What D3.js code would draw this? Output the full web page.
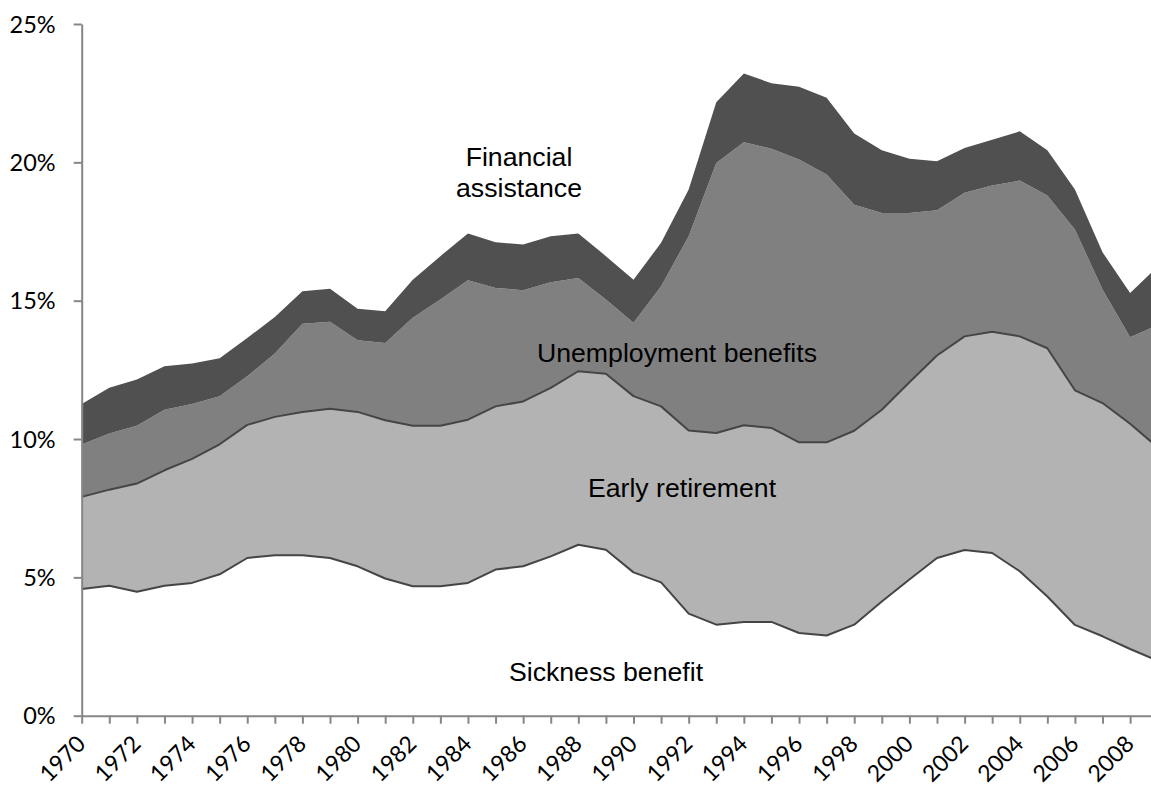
<!DOCTYPE html>
<html>
<head>
<meta charset="utf-8">
<script src="https://cdn.jsdelivr.net/npm/d3@7/dist/d3.min.js"></script>
<style>
  html, body { margin: 0; padding: 0; background: #fff; overflow: hidden; }
  svg { display: block; }
</style>
</head>
<body>
<svg id="chart" width="1151" height="787"></svg>
<script>
const years = [1970,1971,1972,1973,1974,1975,1976,1977,1978,1979,1980,1981,1982,1983,1984,1985,1986,1987,1988,1989,
               1990,1991,1992,1993,1994,1995,1996,1997,1998,1999,2000,2001,2002,2003,2004,2005,2006,2007,2008,2009];
const sickness = [4.58,4.70,4.48,4.70,4.80,5.11,5.70,5.80,5.80,5.70,5.40,4.96,4.68,4.68,4.80,5.28,5.40,5.76,6.18,6.00,
                  5.18,4.82,3.69,3.29,3.39,3.39,2.99,2.90,3.29,4.13,4.92,5.70,5.99,5.88,5.22,4.31,3.28,2.87,2.41,1.99];
const earlyRetirement = [3.33,3.47,3.91,4.17,4.48,4.70,4.81,5.00,5.18,5.39,5.58,5.72,5.80,5.80,5.90,5.90,5.96,6.09,6.27,6.36,
                  6.37,6.36,6.62,6.93,7.11,7.01,6.89,6.98,7.01,6.93,7.13,7.32,7.72,8.00,8.49,8.97,8.48,8.43,8.14,7.71];
const unemployment = [1.89,2.03,2.09,2.19,1.99,1.74,1.76,2.29,3.19,3.15,2.59,2.79,3.90,4.56,5.04,4.28,4.02,3.82,3.37,2.68,
                  2.65,4.34,7.02,9.76,10.23,10.09,10.22,9.68,8.17,7.11,6.12,5.25,5.19,5.28,5.63,5.52,5.81,4.10,3.13,4.42];
const financial = [1.47,1.65,1.67,1.57,1.46,1.37,1.38,1.32,1.17,1.19,1.14,1.15,1.38,1.57,1.69,1.65,1.65,1.66,1.61,1.57,
                  1.56,1.57,1.69,2.19,2.48,2.37,2.63,2.77,2.57,2.27,1.96,1.77,1.62,1.66,1.78,1.64,1.45,1.35,1.60,2.11];
const yTicks = [0,5,10,15,20,25];
const seriesKeys = ["sickness","early","unemployment","financial"];
const seriesLabels = [
  {key:"financial", lines:["Financial","assistance"], x:519, y:166},
  {key:"unemployment", lines:["Unemployment benefits"], x:677, y:362},
  {key:"early", lines:["Early retirement"], x:682, y:497},
  {key:"sickness", lines:["Sickness benefit"], x:606, y:681}
];
const fills = {sickness:"#ffffff", early:"#b3b3b3", unemployment:"#808080", financial:"#505050"};

const rows = years.map((yr,i)=>({year:yr, sickness:sickness[i], early:earlyRetirement[i], unemployment:unemployment[i], financial:financial[i]}));

const svg = d3.select("#chart");
const x0 = 81.7, step = 27.59;
const x = d3.scalePoint().domain(years).range([x0, x0 + step*(years.length-1)]);
const y = d3.scaleLinear().domain([0,25]).range([715.7, 24]);

const stacked = d3.stack().keys(seriesKeys)(rows);

const area = d3.area()
  .x(d=>x(d.data.year))
  .y0(d=>y(d[0]))
  .y1(d=>y(d[1]));

svg.append("g").selectAll("path")
  .data(stacked)
  .join("path")
  .attr("d", area)
  .attr("fill", d=>fills[d.key]);

const line = d3.line().x(d=>x(d.data.year)).y(d=>y(d[1]));
svg.append("g").selectAll("path")
  .data(stacked.filter(s=>s.key==="sickness"||s.key==="early"))
  .join("path")
  .attr("d", line)
  .attr("fill","none")
  .attr("stroke","#454545")
  .attr("stroke-width",2)
  .attr("stroke-linejoin","round");

// Y axis
const yAxis = svg.append("g")
  .attr("transform",`translate(${x0},0)`)
  .call(d3.axisLeft(y).tickValues(yTicks).tickSize(8).tickSizeOuter(0).tickPadding(18).tickFormat(d=>d+"%"));
yAxis.select(".domain").attr("stroke","#868686").attr("stroke-width",2);
yAxis.selectAll(".tick line").attr("stroke","#868686").attr("stroke-width",2);
yAxis.selectAll(".tick text").attr("font-family","Lato, 'Open Sans', sans-serif").attr("font-size","23.5px").attr("fill","#000").attr("dy","0.35em");

// X axis
const xAxis = svg.append("g")
  .attr("transform",`translate(0,${y(0)})`)
  .call(d3.axisBottom(x).tickSize(8).tickSizeOuter(0).tickFormat(d=> (d-1970)%2===0 ? String(d) : ""));
xAxis.select(".domain").attr("stroke","#868686").attr("stroke-width",2);
xAxis.selectAll(".tick line").attr("stroke","#868686").attr("stroke-width",2);
xAxis.selectAll(".tick text")
  .attr("font-family","Lato, 'Open Sans', sans-serif")
  .attr("font-size","23px")
  .attr("fill","#000")
  .attr("text-anchor","end")
  .attr("y",0).attr("dy","0.35em")
  .attr("transform","translate(-1,24) rotate(-45)");

// Series labels
const lab = svg.append("g").attr("font-family","'Liberation Sans', Arial, sans-serif").attr("font-size","26.67px").attr("fill","#000").attr("text-anchor","middle");
seriesLabels.forEach(l=>{
  const t = lab.append("text").attr("x",l.x).attr("y",l.y);
  l.lines.forEach((s,i)=>{
    t.append("tspan").attr("x",l.x).attr("dy", i===0?0:31).text(s);
  });
});
</script>
</body>
</html>
